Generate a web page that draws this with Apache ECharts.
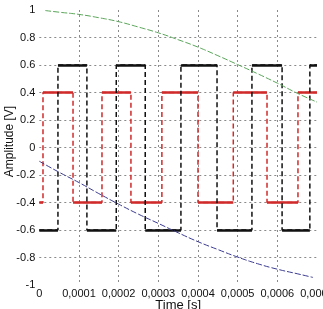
<!DOCTYPE html>
<html>
<head>
<meta charset="utf-8">
<script src="https://cdn.jsdelivr.net/npm/echarts@6/dist/echarts.min.js"></script>
<style>html,body{margin:0;padding:0;background:#fff}#c{width:323px;height:309px}</style>
</head>
<body>
<div id="c"></div>
<script>
// Square wave transitions (time in s) and levels (V)
const redT = [0, 0.0000093, 0.000085, 0.000158, 0.000231, 0.000309, 0.0004, 0.000489, 0.000574, 0.000652, 0.0007];
const redV = [-0.4, 0.4, -0.4, 0.4, -0.4, 0.4, -0.4, 0.4, -0.4, 0.4, 0.4];
const blackT = [0, 0.000047, 0.00012, 0.000194, 0.000267, 0.000357, 0.000448, 0.000536, 0.000612, 0.000682, 0.0007];
const blackV = [-0.6, 0.6, -0.6, 0.6, -0.6, 0.6, -0.6, 0.6, -0.6, 0.6, 0.6];
// Smooth curves
const curveT = [0.000015, 0.00005, 0.0001, 0.00015, 0.0002, 0.00025, 0.0003, 0.00035, 0.0004, 0.00045, 0.0005, 0.00055, 0.0006, 0.00065, 0.0007];
const greenV = [0.996, 0.984, 0.968, 0.944, 0.915, 0.876, 0.834, 0.784, 0.73, 0.668, 0.603, 0.537, 0.468, 0.395, 0.33];
const blueT = [0, 0.00005, 0.0001, 0.00015, 0.0002, 0.00025, 0.0003, 0.00035, 0.0004, 0.00045, 0.0005, 0.00055, 0.0006, 0.00065, 0.00069];
const blueV = [-0.1, -0.18, -0.255, -0.335, -0.412, -0.485, -0.552, -0.62, -0.685, -0.742, -0.797, -0.845, -0.885, -0.918, -0.945];
const yTicks = [-1, -0.8, -0.6, -0.4, -0.2, 0, 0.2, 0.4, 0.6, 0.8, 1];

function stepData(T, V) { return T.map((t, i) => [t, V[i]]); }
function flats(T, V) {
  const out = [];
  for (let i = 0; i < T.length - 1; i++) out.push({ coords: [[T[i], V[i]], [T[i + 1], V[i]]] });
  return out;
}
const font = 'Liberation Sans, Arial, sans-serif';
const chart = echarts.init(document.getElementById('c'), null, { renderer: 'canvas' });
const grid = { type: [2, 3], color: '#8a8a8a', width: 1 };
chart.setOption({
  animation: false,
  grid: { left: 39.3, right: 6, top: 10, bottom: 24, containLabel: false, outerBoundsMode: 'none' },
  xAxis: {
    type: 'value', min: 0, max: 0.0007, interval: 0.0001,
    name: 'Time [s]', nameLocation: 'middle', nameGap: 14, nameMoveOverlap: false,
    nameTextStyle: { fontFamily: font, fontSize: 13, color: '#111' },
    axisLine: { show: false }, axisTick: { show: false },
    axisLabel: { margin: 3, fontFamily: font, fontSize: 11, color: '#111', hideOverlap: false,
      formatter: v => v === 0 ? '0' : v.toFixed(4).replace('.', ',') },
    splitLine: { show: true, showMinLine: false, showMaxLine: false, lineStyle: grid }
  },
  yAxis: {
    type: 'value', min: -1, max: 1, interval: 0.2,
    name: 'Amplitude [V]', nameLocation: 'middle', nameGap: 24, nameRotate: 90, nameMoveOverlap: false,
    nameTextStyle: { fontFamily: font, fontSize: 12, color: '#111', padding: [0, 0, 0, 12] },
    axisLine: { show: false }, axisTick: { show: false },
    axisLabel: { margin: 4, fontFamily: font, fontSize: 11, color: '#111',
      formatter: v => String(Math.round(v * 10) / 10) },
    splitLine: { show: true, showMinLine: false, showMaxLine: false, lineStyle: grid }
  },
  series: [
    { type: 'line', step: 'end', data: stepData(redT, redV), showSymbol: false,
      lineStyle: { color: '#d02a2a', width: 1.5, type: [5, 3] }, z: 2 },
    { type: 'lines', coordinateSystem: 'cartesian2d', data: flats(redT, redV),
      lineStyle: { color: '#d02a2a', width: 2.5, opacity: 1 }, z: 2 },
    { type: 'line', step: 'end', data: stepData(blackT, blackV), showSymbol: false,
      lineStyle: { color: '#111', width: 1.5, type: [5, 3] }, z: 3 },
    { type: 'lines', coordinateSystem: 'cartesian2d', data: flats(blackT, blackV),
      lineStyle: { color: '#111', width: 2.5, opacity: 1 }, z: 3 },
    { type: 'line', data: curveT.map((t, i) => [t, greenV[i]]), showSymbol: false, smooth: true,
      lineStyle: { color: '#5aa55a', width: 1, type: [6, 2] }, z: 4 },
    { type: 'line', data: blueT.map((t, i) => [t, blueV[i]]), showSymbol: false, smooth: true,
      lineStyle: { color: '#3a3a90', width: 1, type: [6, 2] }, z: 4 }
  ]
});
</script>
</body>
</html>
